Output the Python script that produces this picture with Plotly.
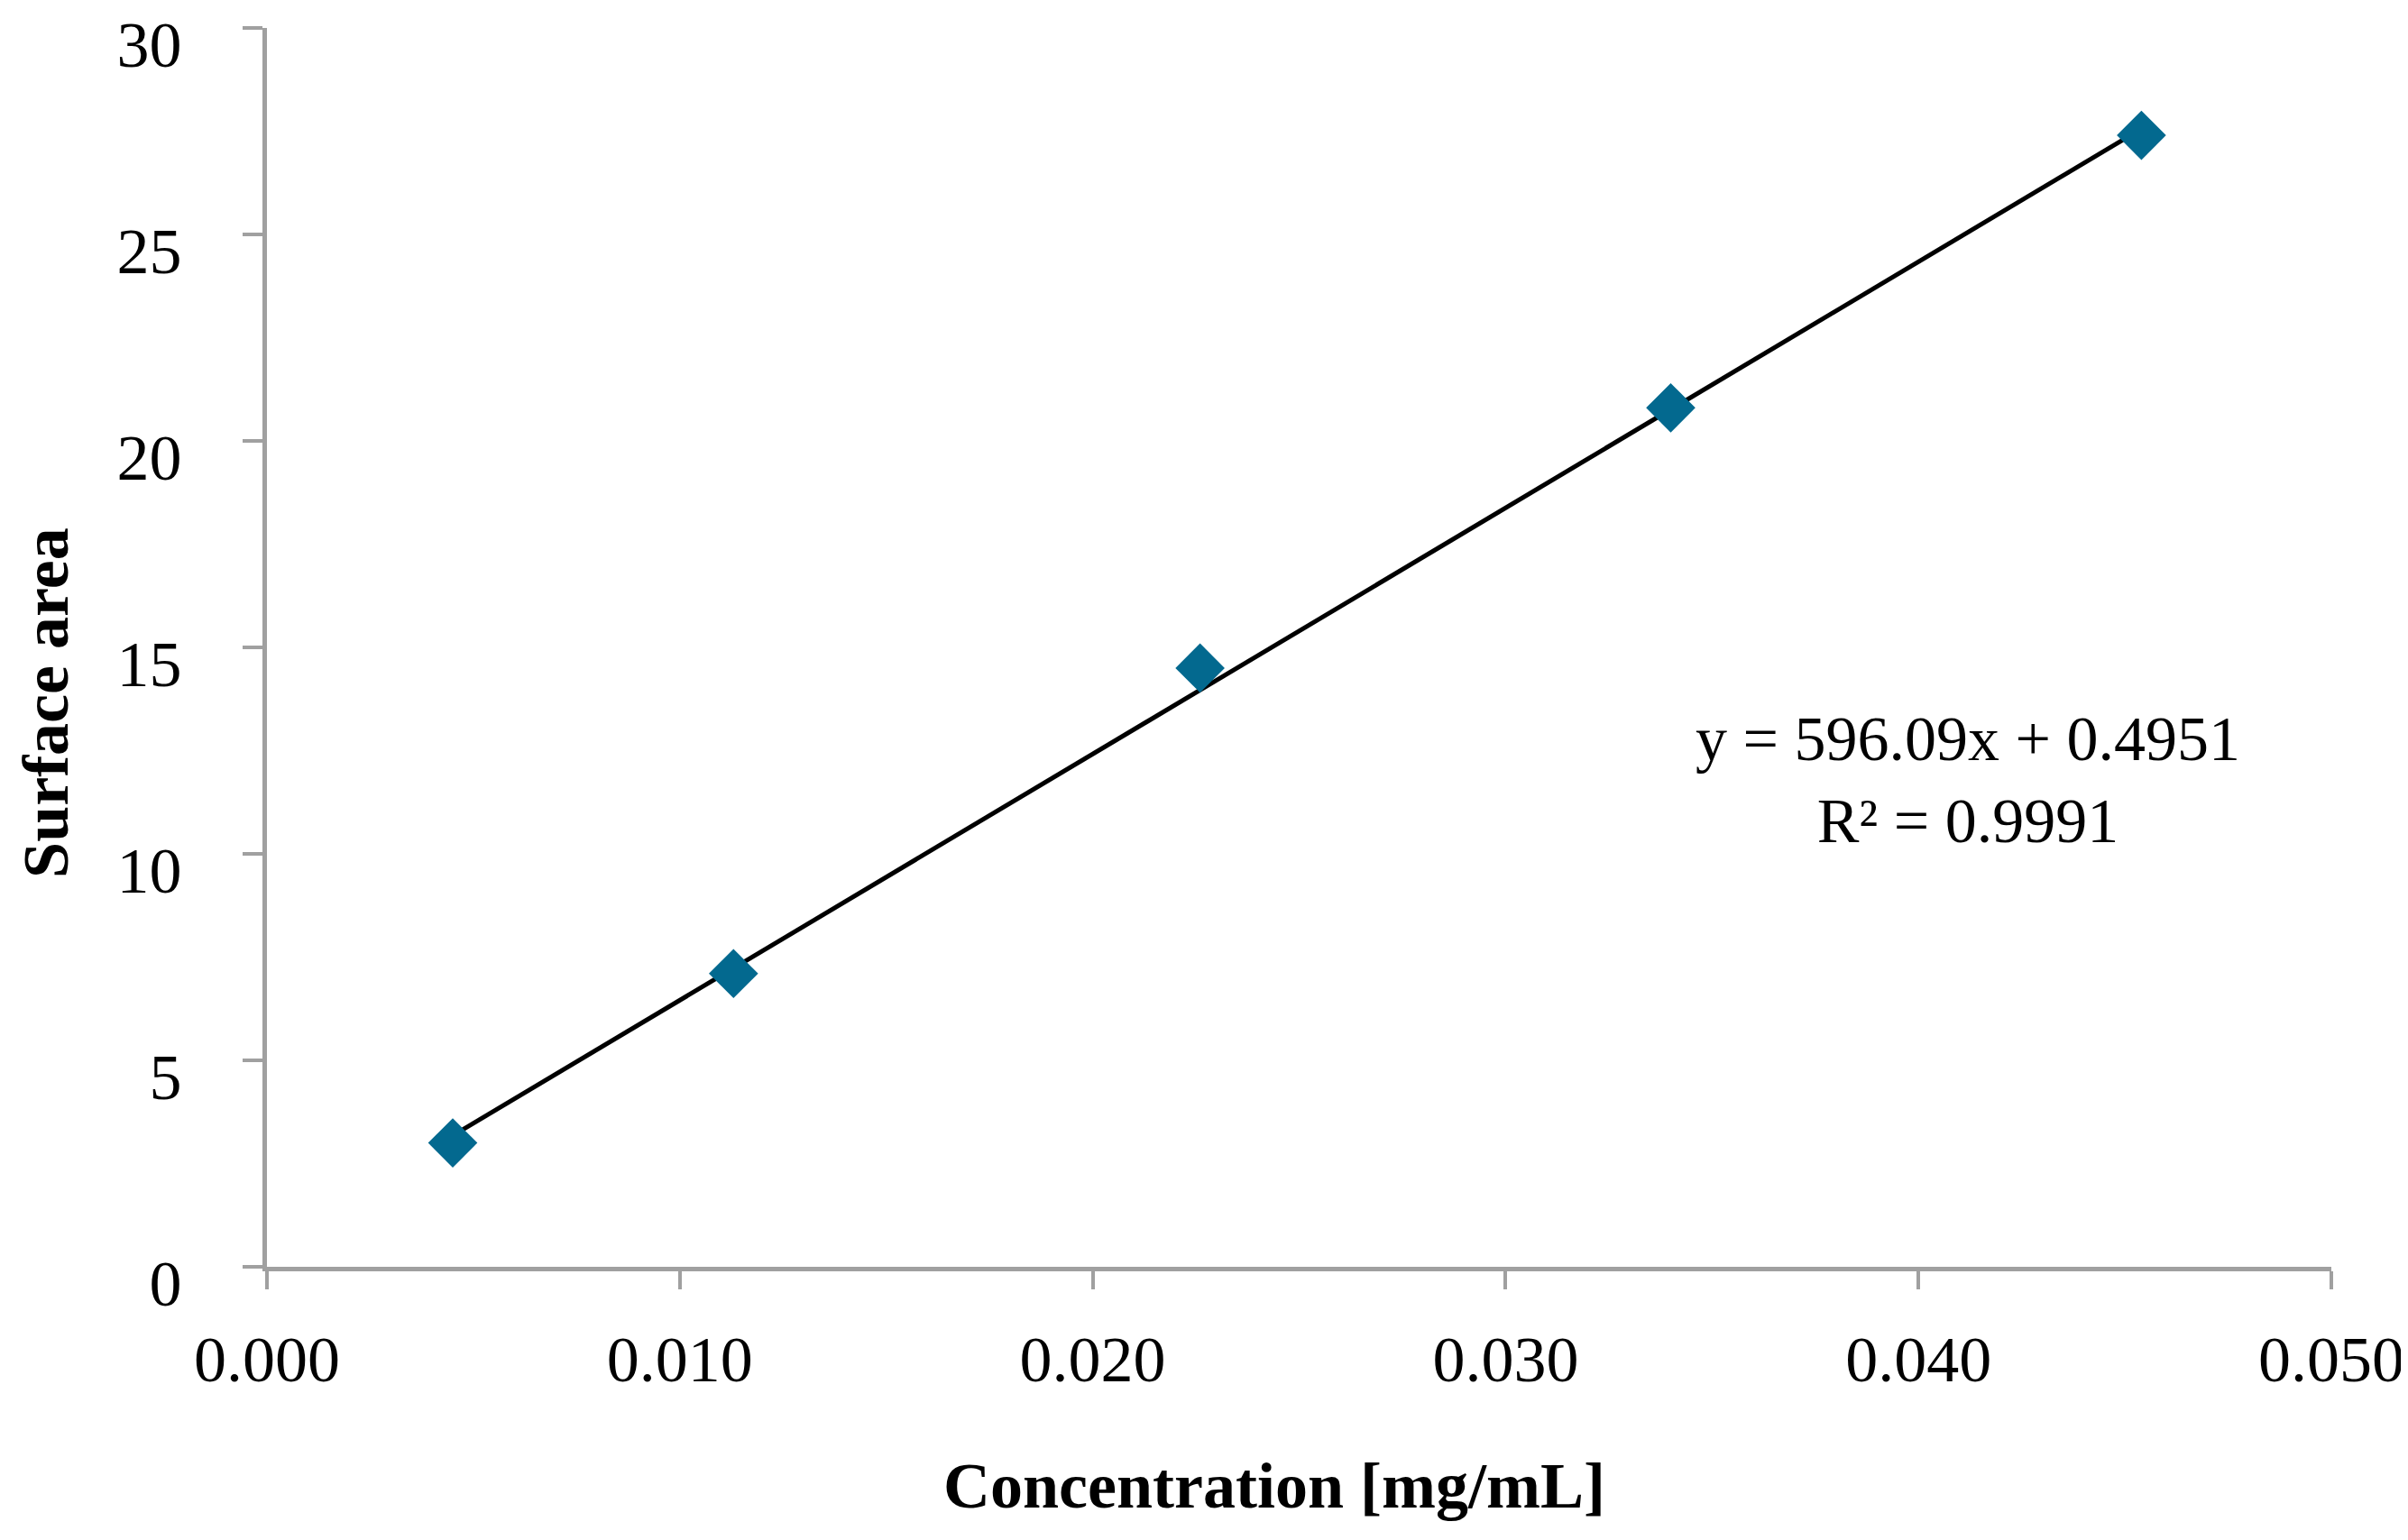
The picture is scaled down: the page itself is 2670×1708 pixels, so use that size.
import plotly.graph_objects as go

concentration = [0.0045, 0.0113, 0.0226, 0.0340, 0.0454]
surface_area = [3.0, 7.1, 14.5, 20.8, 27.4]
slope = 596.09
intercept = 0.4951
r_squared = 0.9991
x_ticks = [0.0, 0.01, 0.02, 0.03, 0.04, 0.05]
x_tick_labels = ["0.000", "0.010", "0.020", "0.030", "0.040", "0.050"]
y_ticks = [0, 5, 10, 15, 20, 25, 30]
x_title = "Concentration [mg/mL]"
y_title = "Surface area"

FONT = "Liberation Serif"
AXIS_GRAY = "#a0a0a0"

fit_x = [min(concentration), max(concentration)]
fit_y = [slope * v + intercept for v in fit_x]

fig = go.Figure()
fig.add_trace(go.Scatter(
    x=fit_x, y=fit_y, mode="lines",
    line=dict(color="black", width=5),
    showlegend=False, hoverinfo="skip",
))
fig.add_trace(go.Scatter(
    x=concentration, y=surface_area, mode="markers",
    marker=dict(symbol="diamond", size=42, color="#03698f"),
    showlegend=False,
))

fig.add_annotation(
    x=0.0412, y=11.8, xref="x", yref="y",
    text=f"y = {slope}x + {intercept}<br>R² = {r_squared}",
    showarrow=False, align="center",
    font=dict(family=FONT, size=70, color="black"),
)
fig.add_annotation(
    x=0.488, y=-0.177, xref="paper", yref="paper",
    text=f"<b>{x_title}</b>", showarrow=False,
    xanchor="center", yanchor="middle",
    font=dict(family=FONT, size=72, color="black"),
)
fig.add_annotation(
    x=-0.107, y=0.455, xref="paper", yref="paper",
    text=f"<b>{y_title}</b>", showarrow=False, textangle=-90,
    xanchor="center", yanchor="middle",
    font=dict(family=FONT, size=72, color="black"),
)

fig.update_layout(
    width=2670, height=1708,
    margin=dict(l=288, r=93, t=23, b=311, autoexpand=False),
    paper_bgcolor="white", plot_bgcolor="white",
    font=dict(family=FONT, size=72, color="black"),
    xaxis=dict(
        range=[0, 0.05], tickvals=x_ticks, ticktext=x_tick_labels,
        automargin=False,
        showgrid=False, zeroline=False,
        showline=True, linecolor=AXIS_GRAY, linewidth=5,
        ticks="outside", ticklen=20, tickwidth=4, tickcolor=AXIS_GRAY,
        ticklabelstandoff=16, ticklabeloverflow="allow",
        tickfont=dict(family=FONT, size=72, color="black"),
    ),
    yaxis=dict(
        range=[0, 30], tickvals=y_ticks,
        automargin=False,
        showgrid=False, zeroline=False,
        showline=True, linecolor=AXIS_GRAY, linewidth=5,
        ticks="outside", ticklen=22, tickwidth=4, tickcolor=AXIS_GRAY,
        ticklabelstandoff=53, ticklabelshift=18, ticklabeloverflow="allow",
        tickfont=dict(family=FONT, size=72, color="black"),
    ),
)

fig.write_html("out.html")
